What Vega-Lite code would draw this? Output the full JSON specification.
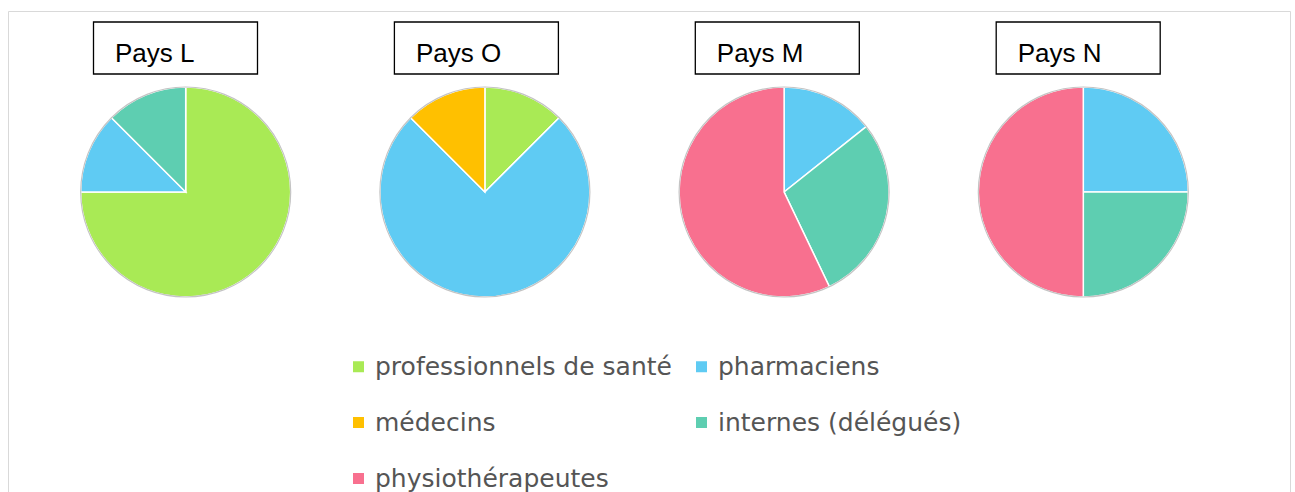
{
  "$schema": "https://vega.github.io/schema/vega-lite/v6.json",
  "width": 1282,
  "height": 500,
  "autosize": {"type": "none"},
  "padding": {"left": 8, "top": 11, "right": 5, "bottom": 0},
  "background": "white",
  "view": {"stroke": "#d9d9d9", "strokeWidth": 1},
  "datasets": {
    "parts": [
      {"pays": "Pays L", "categorie": "professionnels de santé", "valeur": 75, "ordre": 1},
      {"pays": "Pays L", "categorie": "pharmaciens", "valeur": 12.5, "ordre": 2},
      {"pays": "Pays L", "categorie": "internes (délégués)", "valeur": 12.5, "ordre": 4},
      {"pays": "Pays O", "categorie": "professionnels de santé", "valeur": 12.5, "ordre": 1},
      {"pays": "Pays O", "categorie": "pharmaciens", "valeur": 75, "ordre": 2},
      {"pays": "Pays O", "categorie": "médecins", "valeur": 12.5, "ordre": 3},
      {"pays": "Pays M", "categorie": "pharmaciens", "valeur": 14.3, "ordre": 2},
      {"pays": "Pays M", "categorie": "internes (délégués)", "valeur": 28.6, "ordre": 4},
      {"pays": "Pays M", "categorie": "physiothérapeutes", "valeur": 57.1, "ordre": 5},
      {"pays": "Pays N", "categorie": "pharmaciens", "valeur": 25, "ordre": 2},
      {"pays": "Pays N", "categorie": "internes (délégués)", "valeur": 25, "ordre": 4},
      {"pays": "Pays N", "categorie": "physiothérapeutes", "valeur": 50, "ordre": 5}
    ],
    "titres": [
      {"pays": "Pays L"},
      {"pays": "Pays O"},
      {"pays": "Pays M"},
      {"pays": "Pays N"}
    ]
  },
  "resolve": {"scale": {"x": "independent", "y": "independent"}},
  "layer": [
    {
      "data": {"name": "parts"},
      "transform": [
        {"stack": "valeur", "groupby": ["pays"], "sort": [{"field": "ordre", "order": "ascending"}], "as": ["v0", "v1"]}
      ],
      "mark": {"type": "arc", "radius": 105, "stroke": "white", "strokeWidth": 1.5},
      "encoding": {
        "theta": {"field": "v0", "type": "quantitative", "scale": {"domain": [0, 100]}},
        "theta2": {"field": "v1"},
        "x": {"field": "pays", "type": "nominal", "axis": null, "scale": {"type": "point", "domain": ["Pays L", "Pays O", "Pays M", "Pays N"], "range": [177.7, 1075.3], "padding": 0}},
        "y": {"field": "pays", "type": "nominal", "axis": null, "scale": {"type": "point", "domain": ["Pays L", "Pays O", "Pays M", "Pays N"], "range": [181, 181], "padding": 0}},
        "color": {
          "field": "categorie",
          "type": "nominal",
          "scale": {
            "domain": ["professionnels de santé", "pharmaciens", "médecins", "internes (délégués)", "physiothérapeutes"],
            "range": ["#A9EA55", "#5FCBF3", "#FFC000", "#5ECEB1", "#F8708F"]
          },
          "legend": {
            "orient": "none",
            "legendX": 338,
            "legendY": 343,
            "direction": "horizontal",
            "columns": 2,
            "title": null,
            "padding": 0,
            "symbolType": "square",
            "symbolSize": 121,
            "symbolStrokeWidth": 0,
            "symbolOpacity": 1,
            "labelFont": "DejaVu Sans",
            "labelFontSize": 25,
            "labelColor": "#555555",
            "labelOffset": 4,
            "labelLimit": 0,
            "rowPadding": 30,
            "columnPadding": 17
          }
        }
      }
    },
    {
      "data": {"name": "titres"},
      "mark": {"type": "point", "shape": "circle", "size": 44100, "filled": false, "stroke": "#c4c4c4", "strokeWidth": 1.2, "opacity": 1},
      "encoding": {
        "x": {"field": "pays", "type": "nominal", "axis": null, "scale": {"type": "point", "domain": ["Pays L", "Pays O", "Pays M", "Pays N"], "range": [177.7, 1075.3], "padding": 0}},
        "y": {"field": "pays", "type": "nominal", "axis": null, "scale": {"type": "point", "domain": ["Pays L", "Pays O", "Pays M", "Pays N"], "range": [181, 181], "padding": 0}}
      }
    },
    {
      "data": {"name": "titres"},
      "mark": {"type": "rect", "width": 164, "height": 52, "filled": false, "stroke": "black", "strokeWidth": 1.3},
      "encoding": {
        "x": {"field": "pays", "type": "nominal", "axis": null, "scale": {"type": "point", "domain": ["Pays L", "Pays O", "Pays M", "Pays N"], "range": [167.5, 1070.2], "padding": 0}},
        "y": {"field": "pays", "type": "nominal", "axis": null, "scale": {"type": "point", "domain": ["Pays L", "Pays O", "Pays M", "Pays N"], "range": [37, 37], "padding": 0}}
      }
    },
    {
      "data": {"name": "titres"},
      "mark": {"type": "text", "align": "left", "baseline": "alphabetic", "dx": -60.5, "font": "Liberation Sans", "fontSize": 26, "color": "black"},
      "encoding": {
        "text": {"field": "pays", "type": "nominal"},
        "x": {"field": "pays", "type": "nominal", "axis": null, "scale": {"type": "point", "domain": ["Pays L", "Pays O", "Pays M", "Pays N"], "range": [167.5, 1070.2], "padding": 0}},
        "y": {"field": "pays", "type": "nominal", "axis": null, "scale": {"type": "point", "domain": ["Pays L", "Pays O", "Pays M", "Pays N"], "range": [50.7, 50.7], "padding": 0}}
      }
    }
  ]
}
